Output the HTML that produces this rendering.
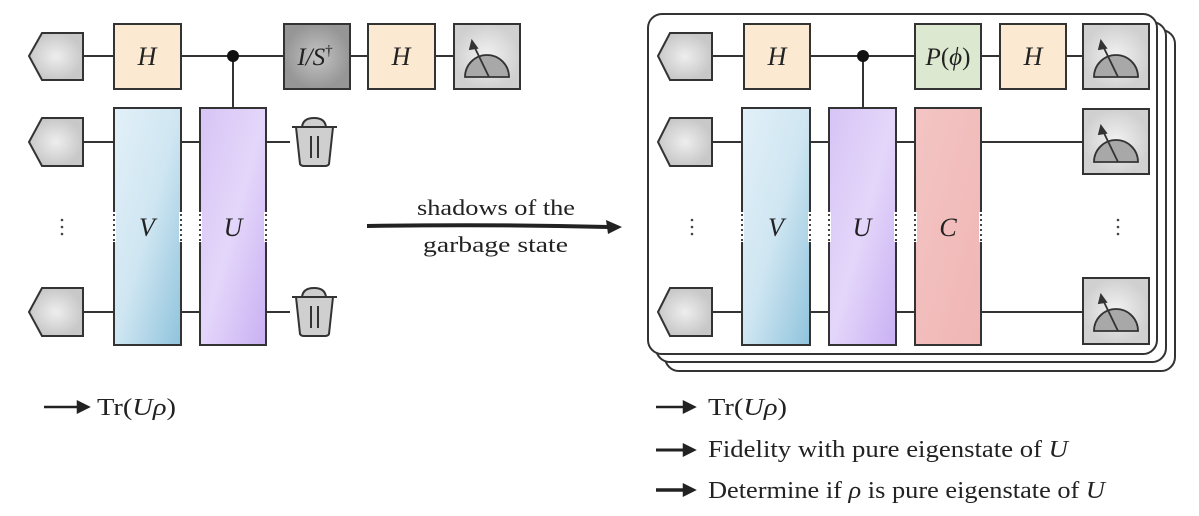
<!DOCTYPE html>
<html><head><meta charset="utf-8"><style>
html,body{margin:0;padding:0;background:#fff}
svg{display:block}
text{font-family:"Liberation Serif",serif;fill:#222}
.it{font-style:italic}
</style></head><body>
<svg width="1199" height="516" viewBox="0 0 1199 516" xmlns="http://www.w3.org/2000/svg">
<defs>
<linearGradient id="gb" x1="0" y1="0" x2="1" y2="1"><stop offset="0" stop-color="#e3f0f8"/><stop offset="0.5" stop-color="#cfe6f2"/><stop offset="1" stop-color="#8fc3dc"/></linearGradient>
<linearGradient id="gp" x1="0" y1="0" x2="1" y2="1"><stop offset="0" stop-color="#d6c4f5"/><stop offset="0.5" stop-color="#e4d6fa"/><stop offset="1" stop-color="#c9b0f3"/></linearGradient>
<linearGradient id="gr" x1="0" y1="0" x2="1" y2="1"><stop offset="0" stop-color="#f3c5c4"/><stop offset="1" stop-color="#f0b6b4"/></linearGradient>
<radialGradient id="gg"><stop offset="0" stop-color="#eee"/><stop offset="1" stop-color="#c8c8c8"/></radialGradient>
<radialGradient id="gd"><stop offset="0" stop-color="#c4c4c4"/><stop offset="1" stop-color="#969696"/></radialGradient>
<radialGradient id="gm"><stop offset="0" stop-color="#f2f2f2"/><stop offset="1" stop-color="#d0d0d0"/></radialGradient>
</defs>
<g stroke="#333" stroke-width="2" fill="none">
<line x1="83" y1="56" x2="284" y2="56"/><line x1="350" y1="56" x2="454" y2="56"/>
<line x1="83" y1="142" x2="290" y2="142"/><line x1="83" y1="312" x2="290" y2="312"/>
<line x1="233" y1="56" x2="233" y2="108"/>
<rect x="665" y="30" width="510" height="341" rx="14" fill="#fff"/>
<rect x="656" y="22" width="510" height="340" rx="14" fill="#fff"/>
<rect x="648" y="14" width="509" height="340" rx="14" fill="#fff"/>
<line x1="712" y1="56" x2="1085" y2="56"/>
<line x1="712" y1="142" x2="1085" y2="142"/><line x1="712" y1="312" x2="1085" y2="312"/>
<line x1="863" y1="56" x2="863" y2="108"/>
</g>
<g stroke="#333" stroke-width="2">
<path d="M29,56 L42,33 L83,33 L83,80 L42,80 Z" fill="url(#gg)"/>
<path d="M29,142 L42,118 L83,118 L83,166 L42,166 Z" fill="url(#gg)"/>
<path d="M29,312 L42,288 L83,288 L83,336 L42,336 Z" fill="url(#gg)"/>
<rect x="114" y="24" width="67" height="65" fill="#fbe9d2"/>
<rect x="284" y="24" width="66" height="65" fill="url(#gd)"/>
<rect x="368" y="24" width="67" height="65" fill="#fbe9d2"/>
<rect x="454" y="24" width="66" height="65" fill="url(#gm)"/>
<rect x="114" y="108" width="67" height="237" fill="url(#gb)"/>
<rect x="200" y="108" width="66" height="237" fill="url(#gp)"/>
<path d="M658,56 L670,33 L712,33 L712,80 L670,80 Z" fill="url(#gg)"/>
<path d="M658,142 L670,118 L712,118 L712,166 L670,166 Z" fill="url(#gg)"/>
<path d="M658,312 L670,288 L712,288 L712,336 L670,336 Z" fill="url(#gg)"/>
<rect x="744" y="24" width="66" height="65" fill="#fbe9d2"/>
<rect x="915" y="24" width="66" height="65" fill="#dce8cf"/>
<rect x="1000" y="24" width="66" height="65" fill="#fbe9d2"/>
<rect x="1083" y="24" width="66" height="65" fill="url(#gm)"/>
<rect x="1083" y="109" width="66" height="65" fill="url(#gm)"/>
<rect x="1083" y="278" width="66" height="66" fill="url(#gm)"/>
<rect x="742" y="108" width="68" height="237" fill="url(#gb)"/>
<rect x="829" y="108" width="67" height="237" fill="url(#gp)"/>
<rect x="915" y="108" width="66" height="237" fill="url(#gr)"/>
</g>
<!-- dotted breaks on box borders -->
<g stroke="#fff" stroke-width="4">
<line x1="114" y1="212" x2="114" y2="242"/><line x1="181" y1="212" x2="181" y2="242"/>
<line x1="200" y1="212" x2="200" y2="242"/><line x1="266" y1="212" x2="266" y2="242"/>
<line x1="742" y1="212" x2="742" y2="242"/><line x1="810" y1="212" x2="810" y2="242"/>
<line x1="829" y1="212" x2="829" y2="242"/><line x1="896" y1="212" x2="896" y2="242"/>
<line x1="915" y1="212" x2="915" y2="242"/><line x1="981" y1="212" x2="981" y2="242"/>
</g>
<g stroke="#444" stroke-width="2" stroke-dasharray="2 3">
<line x1="114" y1="214" x2="114" y2="242"/><line x1="181" y1="214" x2="181" y2="242"/>
<line x1="200" y1="214" x2="200" y2="242"/><line x1="266" y1="214" x2="266" y2="242"/>
<line x1="742" y1="214" x2="742" y2="242"/><line x1="810" y1="214" x2="810" y2="242"/>
<line x1="829" y1="214" x2="829" y2="242"/><line x1="896" y1="214" x2="896" y2="242"/>
<line x1="915" y1="214" x2="915" y2="242"/><line x1="981" y1="214" x2="981" y2="242"/>
</g>
<circle cx="233" cy="56" r="6" fill="#111"/>
<circle cx="863" cy="56" r="6" fill="#111"/>
<g stroke="#333" stroke-width="1.8" fill="#a8a8a8">
<g transform="translate(454,24)"><path d="M11,53 A22,22 0 0 1 55,53 Z"/><line x1="35" y1="53" x2="20" y2="22"/><path d="M18,17 L23,24 L16,25Z" fill="#333"/></g>
<g transform="translate(1083,24)"><path d="M11,53 A22,22 0 0 1 55,53 Z"/><line x1="35" y1="53" x2="20" y2="22"/><path d="M18,17 L23,24 L16,25Z" fill="#333"/></g>
<g transform="translate(1083,109)"><path d="M11,53 A22,22 0 0 1 55,53 Z"/><line x1="35" y1="53" x2="20" y2="22"/><path d="M18,17 L23,24 L16,25Z" fill="#333"/></g>
<g transform="translate(1083,278)"><path d="M11,53 A22,22 0 0 1 55,53 Z"/><line x1="35" y1="53" x2="20" y2="22"/><path d="M18,17 L23,24 L16,25Z" fill="#333"/></g>
</g>
<g stroke="#333" stroke-width="2" fill="#cfcfcf">
<g transform="translate(292,118)"><path d="M10,9 Q11,0 22,0 Q33,0 34,9 Z"/><line x1="0" y1="9" x2="45" y2="9"/><path d="M4,9 L8,46 Q9,48 12,48 L33,48 Q36,48 37,46 L41,9Z"/><line x1="19" y1="18" x2="19" y2="40"/><line x1="26" y1="18" x2="26" y2="40"/></g>
<g transform="translate(292,288)"><path d="M10,9 Q11,0 22,0 Q33,0 34,9 Z"/><line x1="0" y1="9" x2="45" y2="9"/><path d="M4,9 L8,46 Q9,48 12,48 L33,48 Q36,48 37,46 L41,9Z"/><line x1="19" y1="18" x2="19" y2="40"/><line x1="26" y1="18" x2="26" y2="40"/></g>
</g>
<g fill="#444">
<circle cx="62" cy="220" r="1.3"/><circle cx="62" cy="227" r="1.3"/><circle cx="62" cy="234" r="1.3"/>
<circle cx="692" cy="220" r="1.3"/><circle cx="692" cy="227" r="1.3"/><circle cx="692" cy="234" r="1.3"/>
<circle cx="1118" cy="220" r="1.3"/><circle cx="1118" cy="227" r="1.3"/><circle cx="1118" cy="234" r="1.3"/>
</g>
<g font-size="26" text-anchor="middle">
<text class="it" x="147" y="65">H</text>
<text class="it" x="315" y="65" font-size="25">I/S<tspan font-size="15" dy="-10" font-style="normal">†</tspan></text>
<text class="it" x="401" y="65">H</text>
<text class="it" x="147" y="236">V</text>
<text class="it" x="233" y="236">U</text>
<text class="it" x="777" y="65">H</text>
<text x="948" y="65" font-size="25"><tspan font-style="italic">P</tspan>(<tspan font-style="italic">ϕ</tspan>)</text>
<text class="it" x="1033" y="65">H</text>
<text class="it" x="776" y="236">V</text>
<text class="it" x="862" y="236">U</text>
<text class="it" x="948" y="236">C</text>
</g>
<path d="M367,226 Q490,224 608,227" stroke="#222" stroke-width="4" fill="none"/>
<path d="M622,227 L606,220 L608,234 Z" fill="#222"/>
<g font-size="22">
<text x="417" y="215" textLength="158" lengthAdjust="spacingAndGlyphs">shadows of the</text>
<text x="423" y="252" textLength="145" lengthAdjust="spacingAndGlyphs">garbage state</text>
</g>
<g stroke="#222" stroke-width="2.5" fill="#222">
<line x1="44" y1="407" x2="80" y2="407"/><path d="M88,407 L78,402 L78,412Z"/>
<line x1="656" y1="407" x2="685" y2="407"/><path d="M694,407 L684,402 L684,412Z"/>
<line x1="656" y1="450" x2="685" y2="450" stroke-width="3"/><path d="M694,450 L684,445 L684,455Z"/>
<line x1="656" y1="490" x2="685" y2="490" stroke-width="3.5"/><path d="M694,490 L684,485 L684,495Z"/>
</g>
<g font-size="24">
<text x="97" y="415" textLength="79" lengthAdjust="spacingAndGlyphs">Tr(<tspan font-style="italic">Uρ</tspan>)</text>
<text x="708" y="415" textLength="79" lengthAdjust="spacingAndGlyphs">Tr(<tspan font-style="italic">Uρ</tspan>)</text>
<text x="708" y="457" textLength="360" lengthAdjust="spacingAndGlyphs">Fidelity with pure eigenstate of <tspan font-style="italic">U</tspan></text>
<text x="708" y="498" textLength="397" lengthAdjust="spacingAndGlyphs">Determine if <tspan font-style="italic">ρ</tspan> is pure eigenstate of <tspan font-style="italic">U</tspan></text>
</g>
</svg>
</body></html>
